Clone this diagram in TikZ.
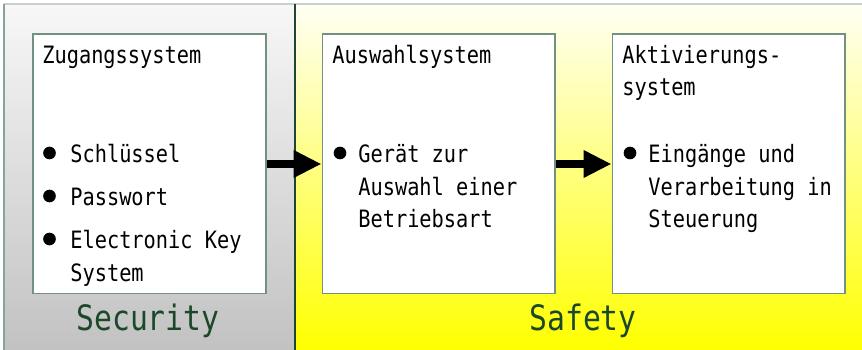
\documentclass[tikz,border=0pt]{standalone}
\usepackage{fontspec}
\setmonofont[FakeStretch=0.85]{DejaVu Sans Mono}
\usepackage{tikz}
\usetikzlibrary{positioning,arrows.meta}
\usepackage{xcolor}

\definecolor{panelline}{RGB}{30,70,50}
\definecolor{edgeline}{RGB}{135,165,150}
\definecolor{topline}{RGB}{200,208,205}
\definecolor{boxline}{RGB}{115,145,128}
\definecolor{tagcol}{RGB}{28,72,42}

\begin{document}
\begin{tikzpicture}[x=0.02cm,y=-0.02cm,
          box/.style={draw=boxline,fill=white,line width=0.6pt,inner sep=0pt,
            minimum width=4.66cm,minimum height=5.2cm},
          txt/.style={anchor=base west,inner sep=0pt,
            font=\ttfamily\fontsize{13.6}{16}\selectfont},
          dot/.style={circle,fill=black,inner sep=0pt,minimum size=7.2pt},
          tag/.style={anchor=base,inner sep=0pt,text=tagcol,
            font=\ttfamily\fontsize{19.9}{24}\selectfont},
          flow/.style={line width=5.1pt,-{Triangle[length=15.9pt,width=14.7pt]}},
        ]
        \useasboundingbox (0,0) rectangle (862,350);
        % two areas
        \shade[top color=black!3,bottom color=black!24] (4,4) rectangle (295,350);
        \shade[top color=yellow!4,bottom color=yellow] (295,4) rectangle (862,350);
        \draw[topline,line width=0.8pt] (4,4) -- (862,4);
        \draw[edgeline,line width=1pt] (4,4) -- (4,350);
        \draw[panelline,line width=0.8pt] (295,4) -- (295,350);

        % the three systems
        \node[box] (zug) at (149.5,164) {};
        \node[box] (ausw) at (438.5,164) {};
        \node[box] (akt) at (728.5,164) {};

        \draw[flow] (zug) -- (ausw);
        \draw[flow] (ausw) -- (akt);

        % titles
        \node[txt] (zugT) at (42,64) {Zugangssystem};
        \node[txt] (auswT) at (332,64) {Auswahlsystem};
        \node[txt] (aktT1) at (622,64) {Aktivierungs-};
        \node[txt] (aktT2) at (622,96) {system};

        % bullets
        \foreach \x/\y [count=\i] in {49.5/153,49.5/196,49.5/239,340/153,630/153} {
          \node[dot] (b\i) at (\x,\y) {};
        }

        % item lines
        \foreach \x/\y/\t [count=\i] in {70/163/Schlüssel,70/206/Passwort,
            70/249/Electronic Key,70/282/System,
            358/163/Gerät zur,358/196/Auswahl einer,358/228/Betriebsart,
            648/163/Eingänge und,648/196/Verarbeitung in,648/228/Steuerung} {
          \node[txt] (l\i) at (\x,\y) {\t};
        }

        \node[tag] (sec) at (148,331) {Security};
        \node[tag] (saf) at (583,331) {Safety};
      \end{tikzpicture}
\end{document}
